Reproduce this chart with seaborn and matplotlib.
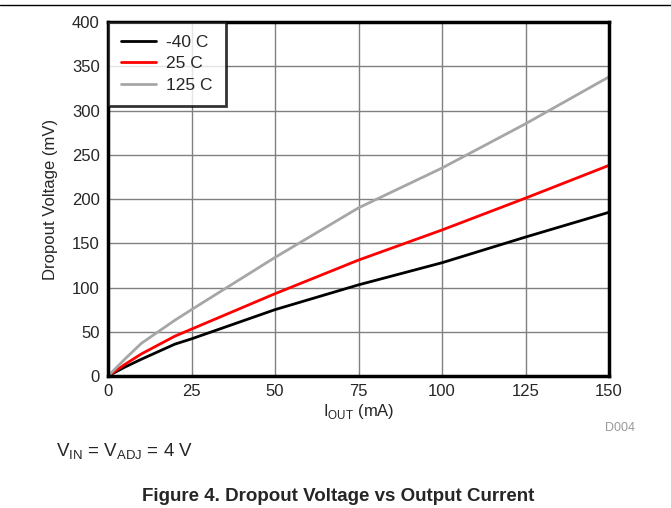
import matplotlib
matplotlib.use("Agg")
import matplotlib.pyplot as plt
import seaborn as sns
import pandas as pd
from matplotlib.lines import Line2D

# Dropout voltage (mV) vs output current (mA)
current_ma = [0, 5, 10, 20, 25, 50, 75, 100, 125, 150]
vdo_m40 = [0, 10, 19, 36, 42, 75, 103, 128, 157, 185]
vdo_25 = [0, 13, 25, 45, 53, 93, 131, 165, 201, 238]
vdo_125 = [0, 19, 37, 63, 75, 134, 190, 235, 285, 338]
labels = ["-40 C", "25 C", "125 C"]
colors = ["#000000", "#ff0000", "#a6a6a6"]

df = pd.DataFrame({
    "I": current_ma * 3,
    "V": vdo_m40 + vdo_25 + vdo_125,
    "T": [labels[0]] * len(current_ma) + [labels[1]] * len(current_ma) + [labels[2]] * len(current_ma),
})

sns.set_style("white")
plt.rcParams['font.family'] = ['Liberation Sans', 'DejaVu Sans']

fig = plt.figure(figsize=(6.71, 5.08), dpi=100)
ax = fig.add_axes([0.161, 0.2598, 0.7466, 0.6969])

sns.lineplot(data=df, x="I", y="V", hue="T", palette=colors, linewidth=2,
             ax=ax, legend=False, zorder=3)

ax.set_xlim(0, 150)
ax.set_ylim(0, 400)
ax.set_xticks(range(0, 151, 25))
ax.set_yticks(range(0, 401, 50))
ax.tick_params(labelsize=12, length=0, pad=6)
ax.grid(True, color="#808080", linewidth=1)
for s in ax.spines.values():
    s.set_linewidth(2.5)
    s.set_color("black")
    s.set_zorder(5)

ax.set_xlabel(r"I$_{\mathregular{OUT}}$ (mA)", fontsize=12, labelpad=2)
ax.set_ylabel("Dropout Voltage (mV)", fontsize=12, labelpad=10)

handles = [Line2D([0], [0], color=c, lw=2) for c in colors]
leg = ax.legend(handles, labels, loc="upper left", fontsize=12.5, frameon=True,
                fancybox=False, borderaxespad=0, handlelength=2.0,
                handletextpad=0.6, labelspacing=0.35, borderpad=0.75)
leg.get_frame().set_edgecolor("black")
leg.get_frame().set_linewidth(2)
leg.set_zorder(6)

fig.text(0.946, 0.157, "D004", fontsize=9, color="#9a9a9a", ha="right", va="center")
fig.text(0.084, 0.11, r"V$_{\mathregular{IN}}$ = V$_{\mathregular{ADJ}}$ = 4 V",
         fontsize=13.5, ha="left", va="center")
fig.text(0.504, 0.022, "Figure 4. Dropout Voltage vs Output Current",
         fontsize=13.5, fontweight="bold", ha="center", va="center")
fig.add_artist(Line2D([0, 1], [0.99, 0.99], color="black", lw=1))

fig.savefig("out.png", dpi=100)
